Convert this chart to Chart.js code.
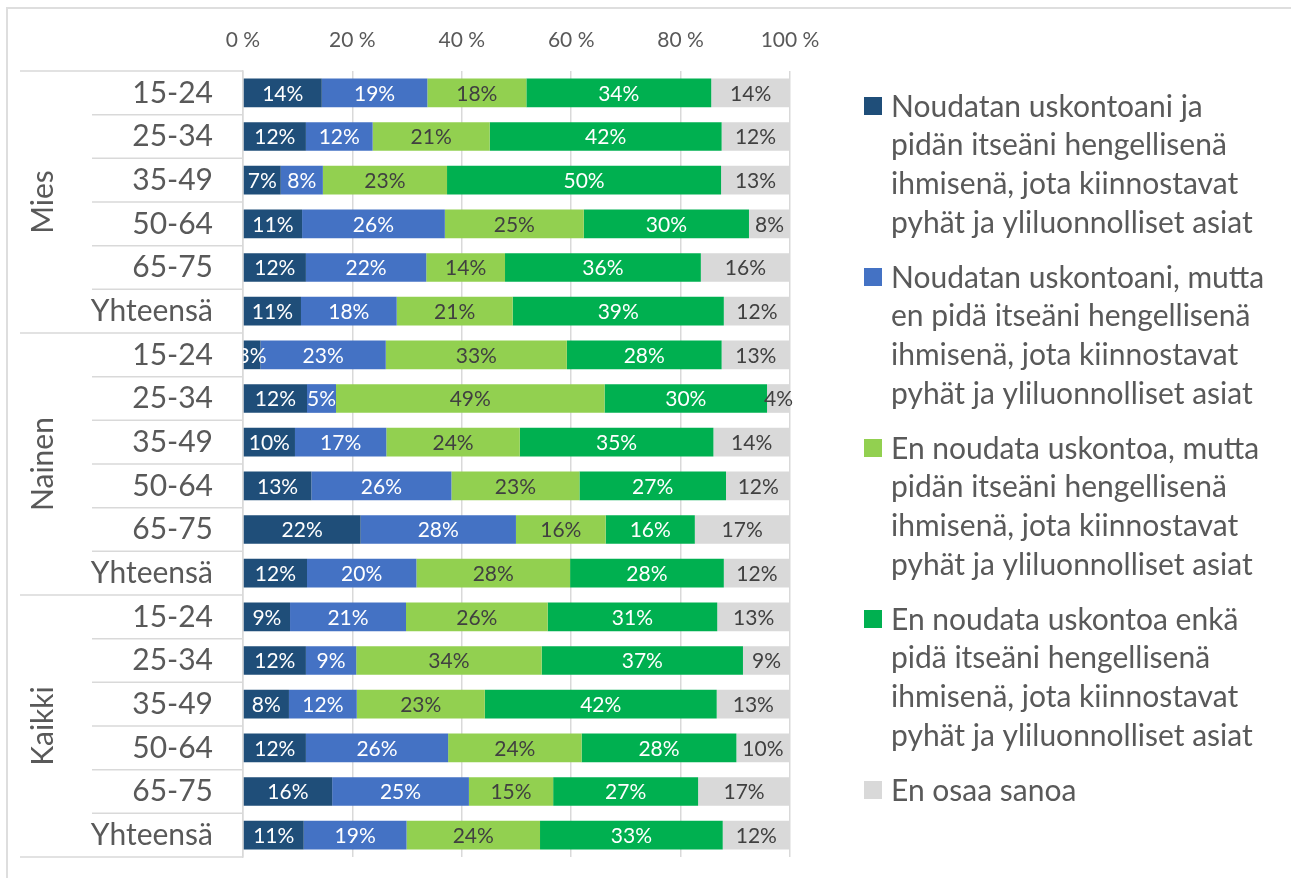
<!DOCTYPE html>
<html>
<head>
<meta charset="utf-8">
<script src="https://cdn.jsdelivr.net/npm/chart.js@4.4.1/dist/chart.umd.min.js"></script>
<style>
  html, body { margin: 0; padding: 0; background: #fff; overflow: hidden; }
  #wrap { position: relative; width: 1291px; height: 878px; }
  #frame { position: absolute; left: 6px; top: 7px; width: 1400px; height: 1000px; border: 2px solid #dedede; }
  canvas { position: absolute; left: 0; top: 0; }
</style>
</head>
<body>
<div id="wrap">
  <div id="frame"></div>
  <canvas id="chart" width="1291" height="878"></canvas>
</div>
<script>
const groups = ['Mies', 'Nainen', 'Kaikki'];
const ageGroups = ['15-24', '25-34', '35-49', '50-64', '65-75', 'Yhteensä'];
const categories = [...ageGroups, ...ageGroups, ...ageGroups];

const xTicks = [0, 20, 40, 60, 80, 100];

// shares in %, rows: Mies 6, Nainen 6, Kaikki 6
const practiceSpiritual = [14.4, 11.5, 6.9, 10.8, 11.5, 10.6,  3.2, 11.7, 9.5, 12.5, 21.5, 11.7,  8.6, 11.5, 8.4, 11.5, 16.3, 11.1];
const practiceNotSpiritual = [19.3, 12.2, 7.7, 26.1, 22.0, 17.5,  22.9, 5.3, 16.7, 25.6, 28.4, 20.0,  21.2, 9.2, 12.4, 26.0, 25.0, 18.8];
const spiritualNoPractice = [18.1, 21.4, 22.7, 25.4, 14.4, 21.2,  33.1, 49.1, 24.4, 23.4, 16.4, 28.1,  25.9, 33.9, 23.4, 24.4, 15.4, 24.4];
const neither = [33.8, 42.4, 50.1, 30.2, 35.8, 38.6,  28.3, 29.7, 35.4, 26.8, 16.3, 28.1,  31.0, 36.8, 42.4, 28.3, 26.5, 33.4];
const dontKnow = [14.4, 12.4, 12.6, 7.5, 16.3, 12.1,  12.5, 4.2, 14.0, 11.8, 17.3, 12.1,  13.3, 8.6, 13.4, 9.7, 16.8, 12.3];

const seriesLabels = [
  ['Noudatan uskontoani ja', 'pidän itseäni hengellisenä', 'ihmisenä, jota kiinnostavat', 'pyhät ja yliluonnolliset asiat'],
  ['Noudatan uskontoani, mutta', 'en pidä itseäni hengellisenä', 'ihmisenä, jota kiinnostavat', 'pyhät ja yliluonnolliset asiat'],
  ['En noudata uskontoa, mutta', 'pidän itseäni hengellisenä', 'ihmisenä, jota kiinnostavat', 'pyhät ja yliluonnolliset asiat'],
  ['En noudata uskontoa enkä', 'pidä itseäni hengellisenä', 'ihmisenä, jota kiinnostavat', 'pyhät ja yliluonnolliset asiat'],
  ['En osaa sanoa']
];

const FONT = 'Lato';
const TEXT = '#595959';
const LINE = '#d9d9d9';

function makeSet(i, data, color, labelColor) {
  return {
    label: seriesLabels[i],
    data: data,
    backgroundColor: color,
    labelColor: labelColor,
    barPercentage: 0.657,
    categoryPercentage: 1.0
  };
}

// group labels + separator lines on the left
const sideTable = {
  id: 'sideTable',
  afterDraw(chart) {
    const ctx = chart.ctx;
    const y = chart.scales.y;
    const left = chart.chartArea.left;
    const n = categories.length;
    const step = y.getPixelForValue(1) - y.getPixelForValue(0);
    ctx.save();
    ctx.strokeStyle = LINE;
    ctx.lineWidth = 1.5;
    for (let i = 0; i <= n; i++) {
      const yy = y.getPixelForValue(i) - step / 2;
      const x0 = (i % 6 === 0) ? 20 : 92;
      ctx.beginPath();
      ctx.moveTo(x0, yy);
      ctx.lineTo(left, yy);
      ctx.stroke();
    }
    ctx.fillStyle = TEXT;
    ctx.font = '30px ' + FONT;
    ctx.textAlign = 'center';
    ctx.textBaseline = 'middle';
    groups.forEach((g, gi) => {
      const cy = (y.getPixelForValue(gi * 6) + y.getPixelForValue(gi * 6 + 5)) / 2;
      ctx.save();
      ctx.translate(43, cy);
      ctx.rotate(-Math.PI / 2);
      ctx.fillText(g, 0, 0);
      ctx.restore();
    });
    ctx.restore();
  }
};

// percentage labels inside the segments
const barLabels = {
  id: 'barLabels',
  afterDatasetsDraw(chart) {
    const ctx = chart.ctx;
    const area = chart.chartArea;
    ctx.save();
    ctx.beginPath();
    ctx.rect(area.left, area.top, area.right - area.left + 30, area.bottom - area.top);
    ctx.clip();
    ctx.font = '21px ' + FONT;
    ctx.textAlign = 'center';
    ctx.textBaseline = 'middle';
    chart.data.datasets.forEach((ds, di) => {
      const meta = chart.getDatasetMeta(di);
      ctx.fillStyle = ds.labelColor;
      meta.data.forEach((bar, i) => {
        const cx = (bar.x + bar.base) / 2;
        ctx.fillText(Math.round(ds.data[i]) + '%', cx, bar.y + 1);
      });
    });
    ctx.restore();
  }
};

// legend on the right with wrapped labels
const sideLegend = {
  id: 'sideLegend',
  afterDraw(chart) {
    const ctx = chart.ctx;
    const x = chart.chartArea.right + 74;
    let y = chart.chartArea.top + 35;
    const lineH = 38.7;
    ctx.save();
    ctx.font = '30px ' + FONT;
    ctx.textBaseline = 'middle';
    ctx.textAlign = 'left';
    chart.data.datasets.forEach(ds => {
      ctx.fillStyle = ds.backgroundColor;
      ctx.fillRect(x, y - 9, 18, 18);
      ctx.fillStyle = TEXT;
      ds.label.forEach((line, li) => {
        ctx.fillText(line, x + 27, y + li * lineH + 1);
      });
      y += ds.label.length * lineH + 16.2;
    });
    ctx.restore();
  }
};

const ctx = document.getElementById('chart').getContext('2d');
new Chart(ctx, {
  type: 'bar',
  data: {
    labels: categories,
    datasets: [
      makeSet(0, practiceSpiritual, '#1f4e79', '#ffffff'),
      makeSet(1, practiceNotSpiritual, '#4472c4', '#ffffff'),
      makeSet(2, spiritualNoPractice, '#92d050', '#404040'),
      makeSet(3, neither, '#00b050', '#ffffff'),
      makeSet(4, dontKnow, '#d9d9d9', '#404040')
    ]
  },
  options: {
    indexAxis: 'y',
    responsive: false,
    animation: false,
    layout: { padding: { left: 0, right: 501, top: 31, bottom: 21 } },
    plugins: {
      legend: { display: false },
      tooltip: { enabled: false }
    },
    scales: {
      x: {
        position: 'top',
        stacked: true,
        min: 0,
        max: 100,
        afterBuildTicks(scale) {
          scale.ticks = xTicks.map(v => ({ value: v }));
        },
        afterFit(scale) { scale.height = 40; },
        ticks: {
          callback: v => v + ' %',
          color: TEXT,
          font: { family: FONT, size: 21 },
          padding: 18,
          maxRotation: 0
        },
        grid: { color: LINE, lineWidth: 1.5, drawTicks: false },
        border: { display: false }
      },
      y: {
        stacked: true,
        afterFit(scale) {
          scale.width = 243;
          scale.paddingTop = 0;
          scale.paddingBottom = 0;
        },
        ticks: {
          color: TEXT,
          font: { family: FONT, size: 30 },
          padding: 30,
          autoSkip: false
        },
        grid: { display: false, drawTicks: false },
        border: { display: true, color: LINE, width: 1.5 }
      }
    }
  },
  plugins: [sideTable, barLabels, sideLegend]
});
</script>
</body>
</html>
